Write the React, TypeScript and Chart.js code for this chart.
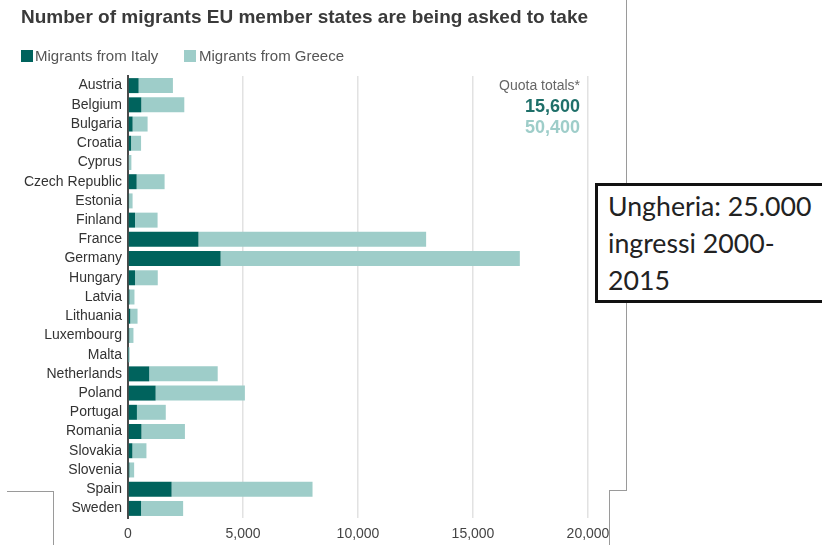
import React, { useEffect, useRef } from "react";
import { Chart, registerables } from "chart.js";

Chart.register(...registerables);

const titleText = "Number of migrants EU member states are being asked to take";
const seriesNames = ["Migrants from Italy", "Migrants from Greece"];
const countries = [
  "Austria", "Belgium", "Bulgaria", "Croatia", "Cyprus", "Czech Republic", "Estonia",
  "Finland", "France", "Germany", "Hungary", "Latvia", "Lithuania", "Luxembourg", "Malta",
  "Netherlands", "Poland", "Portugal", "Romania", "Slovakia", "Slovenia", "Spain", "Sweden",
];
const fromItaly = [462, 579, 201, 134, 35, 376, 47, 304, 3064, 4027, 306, 66, 98, 56, 17, 922, 1201, 388, 585, 190, 63, 1896, 567];
const fromGreece = [1491, 1869, 651, 434, 112, 1215, 152, 982, 9898, 13009, 988, 215, 317, 181, 54, 2978, 3881, 1254, 1890, 612, 204, 6127, 1830];
const xMin = 0;
const xMax = 20000;
const xStep = 5000;
const quotaLabel = "Quota totals*";
const quotaTotals = ["15,600", "50,400"];
const noteLines = ["Ungheria: 25.000", "ingressi 2000-", "2015"];

const DARK = "#00635d";
const LIGHT = "#9ecdc9";
const SANS = '"Liberation Sans", Arial, Helvetica, sans-serif';

function BarChart() {
  const ref = useRef<HTMLCanvasElement | null>(null);
  useEffect(() => {
    if (!ref.current) return;
    const chart = new Chart(ref.current, {
      type: "bar",
      data: {
        labels: countries,
        datasets: [
          { label: seriesNames[0], data: fromItaly, backgroundColor: DARK, borderWidth: 0, barPercentage: 0.78, categoryPercentage: 1 },
          { label: seriesNames[1], data: fromGreece, backgroundColor: LIGHT, borderWidth: 0, barPercentage: 0.78, categoryPercentage: 1 },
        ],
      },
      options: {
        indexAxis: "y",
        animation: false,
        responsive: false,
        devicePixelRatio: 1,
        layout: { padding: { top: 76, right: 52, bottom: 0, left: 0 } },
        plugins: { legend: { display: false }, tooltip: { enabled: false }, title: { display: false } },
        scales: {
          x: {
            type: "linear",
            stacked: true,
            min: xMin,
            max: xMax,
            position: "bottom",
            afterFit: (s: any) => { s.height = 27; },
            grid: { color: "#e2e2e2", lineWidth: 1.5, drawTicks: false },
            border: { display: false },
            ticks: {
              stepSize: xStep,
              padding: 8,
              color: "#444",
              font: { family: SANS, size: 14 },
              callback: (v: any) => Number(v).toLocaleString("en-US"),
            },
          },
          y: {
            type: "category",
            stacked: true,
            afterFit: (s: any) => { s.width = 128; },
            grid: { display: false, drawTicks: false },
            border: { display: true, color: "#4a4a4a", width: 2 },
            ticks: { padding: 6, color: "#333", autoSkip: false, font: { family: SANS, size: 14 } },
          },
        },
      },
    });
    return () => chart.destroy();
  }, []);
  return <canvas ref={ref} width={640} height={545} style={{ position: "absolute", left: 0, top: 0, width: 640, height: 545 }} />;
}

const line = (l: number, t: number, w: number, h: number, c = "#9a9a9a") => (
  <div style={{ position: "absolute", left: l, top: t, width: w, height: h, background: c }} />
);

export default function App() {
  return (
    <div style={{ position: "fixed", left: 0, top: 0, width: 822, height: 545, overflow: "hidden", background: "#fff", fontFamily: SANS }}>
      <BarChart />
      <div style={{ position: "absolute", left: 21, top: 7, fontSize: 19, lineHeight: "19px", fontWeight: "bold", color: "#3a3a3a", whiteSpace: "nowrap" }}>{titleText}</div>
      <div style={{ position: "absolute", left: 21, top: 50, width: 12, height: 12, background: DARK }} />
      <div style={{ position: "absolute", left: 35, top: 48, fontSize: 15, lineHeight: "15px", color: "#555", whiteSpace: "nowrap" }}>{seriesNames[0]}</div>
      <div style={{ position: "absolute", left: 184, top: 50, width: 12, height: 12, background: LIGHT }} />
      <div style={{ position: "absolute", left: 199, top: 48, fontSize: 15, lineHeight: "15px", color: "#555", whiteSpace: "nowrap" }}>{seriesNames[1]}</div>
      <div style={{ position: "absolute", left: 430, width: 150, top: 78, textAlign: "right", fontSize: 14, lineHeight: "15px", color: "#666" }}>{quotaLabel}</div>
      <div style={{ position: "absolute", left: 430, width: 150, top: 97, textAlign: "right", fontSize: 18, lineHeight: "18px", fontWeight: "bold", color: "#1e6f69" }}>{quotaTotals[0]}</div>
      <div style={{ position: "absolute", left: 430, width: 150, top: 118, textAlign: "right", fontSize: 18, lineHeight: "18px", fontWeight: "bold", color: LIGHT }}>{quotaTotals[1]}</div>
      {line(626, 0, 1, 490)}
      {line(609, 490, 18, 1)}
      {line(609, 490, 1, 60)}
      {line(7, 491, 47, 1)}
      {line(53, 491, 1, 60)}
      <div style={{ position: "absolute", left: 595, top: 183, width: 260, height: 114, border: "3px solid #111", background: "#fff", boxSizing: "content-box" }}>
        <div style={{ position: "absolute", left: 10, top: 2, fontFamily: "Lato, 'Open Sans', sans-serif", fontSize: 26.7, lineHeight: "37px", color: "#222", whiteSpace: "nowrap" }}>
          {noteLines.map((t, i) => <div key={i}>{t}</div>)}
        </div>
      </div>
    </div>
  );
}
